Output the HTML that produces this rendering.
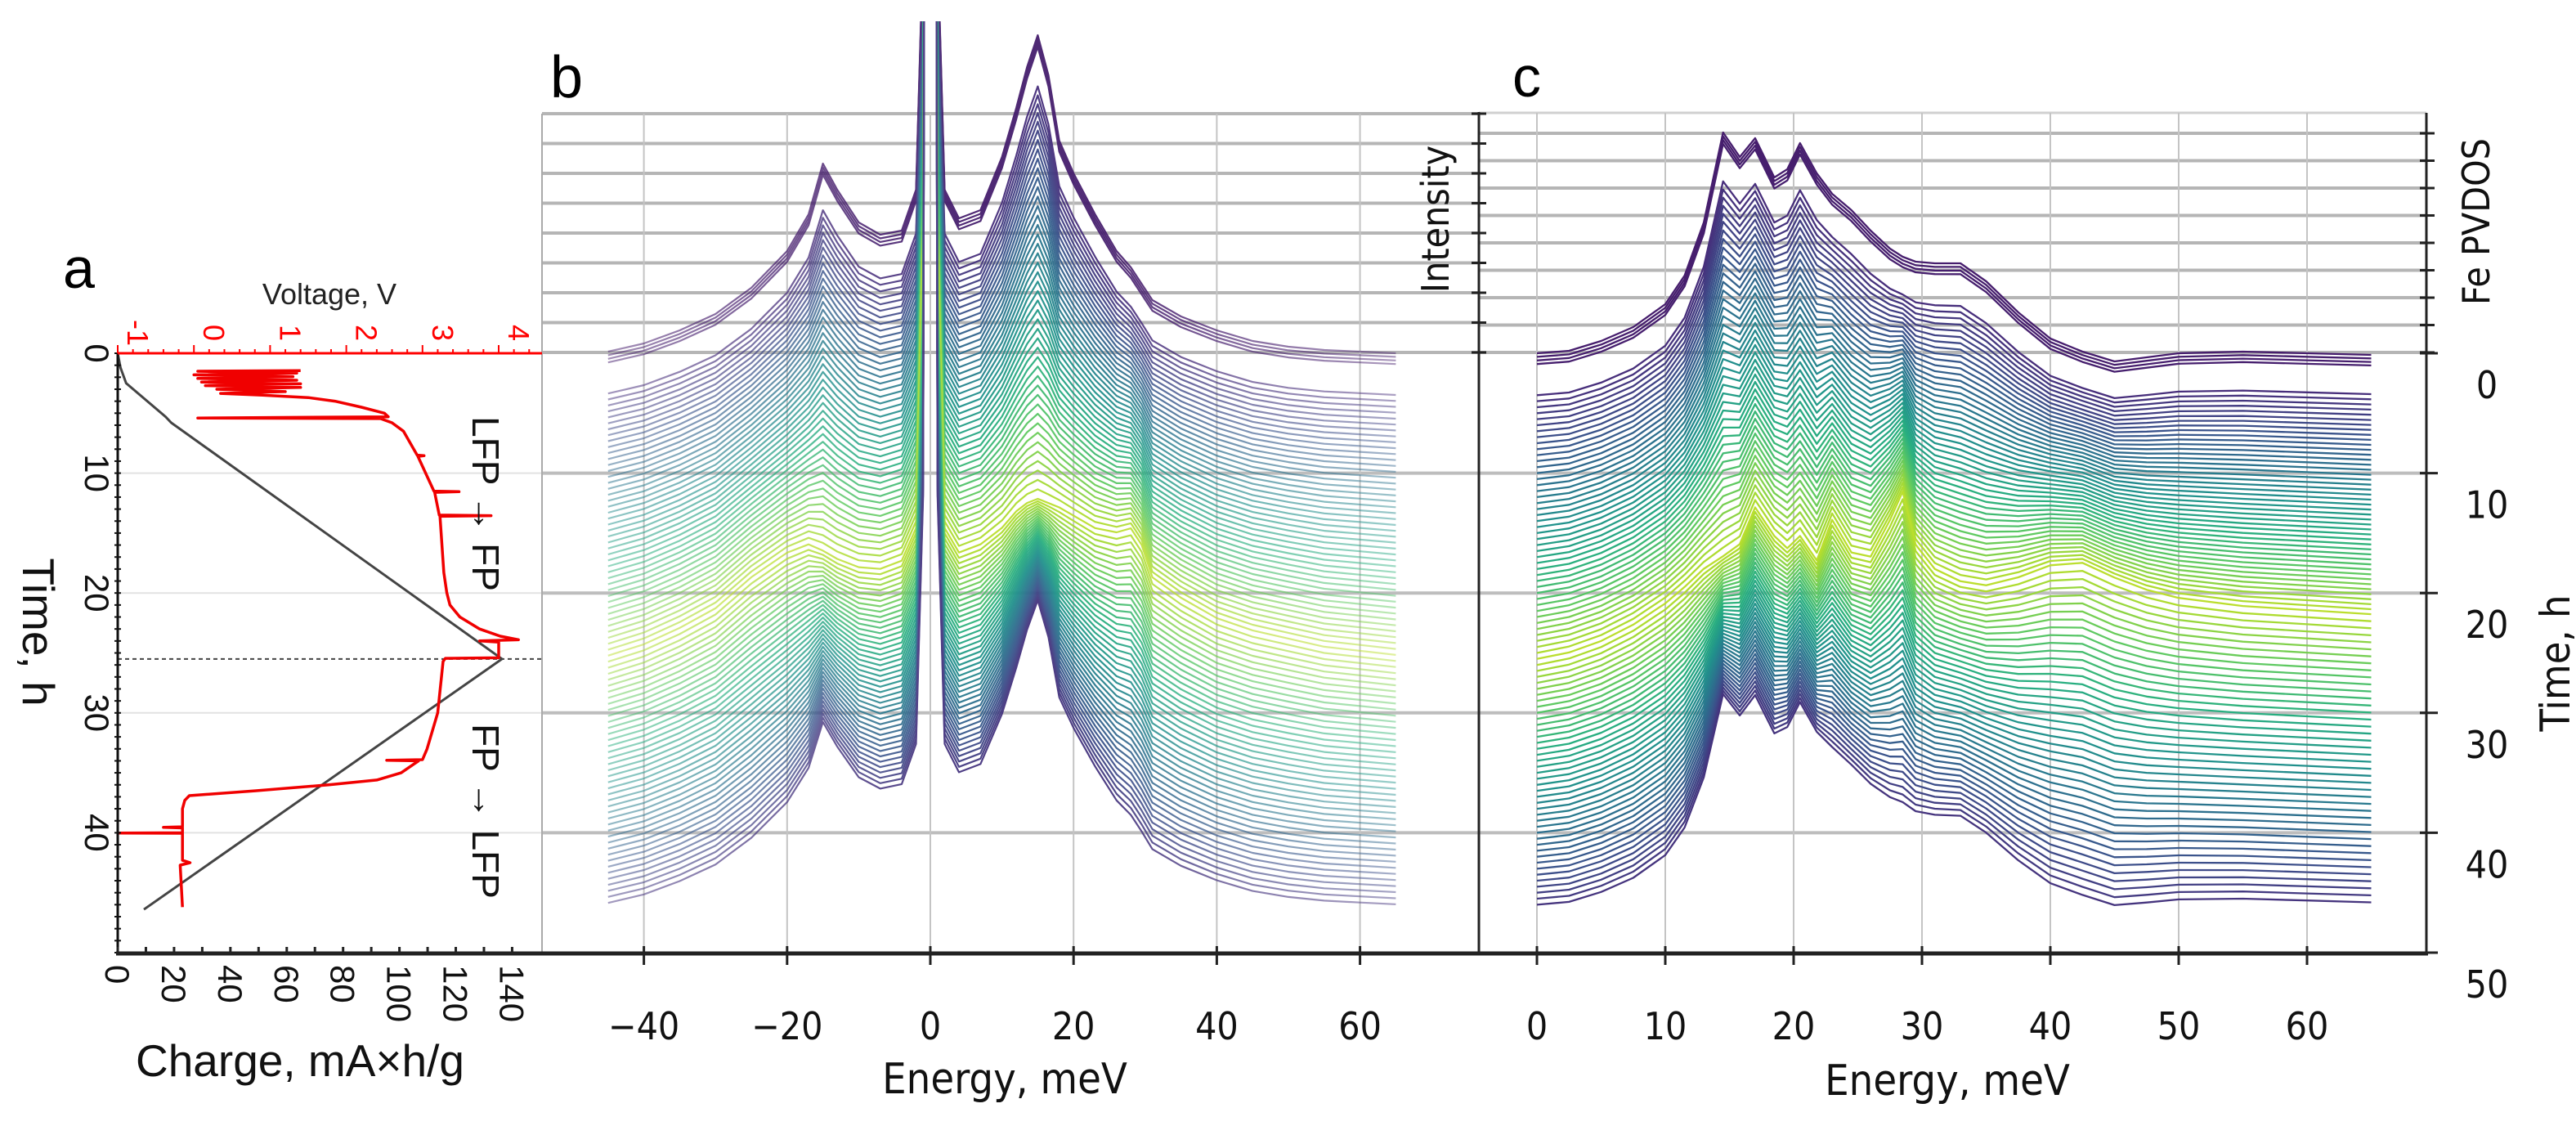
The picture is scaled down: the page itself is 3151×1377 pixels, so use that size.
<!DOCTYPE html>
<html><head><meta charset="utf-8">
<style>
html,body{margin:0;padding:0;background:#fff;}
svg{display:block;}
.la{font-family:"Liberation Sans",Arial,sans-serif;}
.dj{font-family:"DejaVu Sans Condensed","DejaVu Sans",sans-serif;font-stretch:condensed;}
</style></head>
<body>
<svg id="fig" width="3151" height="1377" viewBox="0 0 3151 1377" xmlns="http://www.w3.org/2000/svg">
<defs>
  <clipPath id="clipB"><rect x="663" y="26" width="1146" height="1140"/></clipPath>
  <clipPath id="clipC"><rect x="1811" y="26" width="1157" height="1140"/></clipPath>
  <linearGradient id="fadeG" x1="663" x2="1809" y1="0" y2="0" gradientUnits="userSpaceOnUse">
    <stop offset="0" stop-color="#fff" stop-opacity="0.4"/>
    <stop offset="0.3" stop-color="#fff" stop-opacity="0.8"/>
    <stop offset="0.42" stop-color="#fff" stop-opacity="0.95"/>
    <stop offset="0.6" stop-color="#fff" stop-opacity="0.95"/>
    <stop offset="0.75" stop-color="#fff" stop-opacity="0.65"/>
    <stop offset="1" stop-color="#fff" stop-opacity="0.35"/>
  </linearGradient>
  <mask id="fadeM" maskUnits="userSpaceOnUse" x="0" y="0" width="3151" height="1377"><rect x="0" y="0" width="3151" height="1377" fill="url(#fadeG)"/></mask>
</defs>
<g id="gridA"></g>
<g id="gridB"></g>
<g id="gridC"></g>
<g id="seriesB" clip-path="url(#clipB)"><g id="seriesBin" mask="url(#fadeM)"></g></g>
<g id="seriesC" clip-path="url(#clipC)"></g>
<g id="seriesA"></g>
<g id="axes"></g>
<g id="labels">
  <text class="la" x="77" y="352" font-size="70">a</text>
  <text class="la" x="673" y="119" font-size="72">b</text>
  <text class="la" x="1850" y="118" font-size="70">c</text>
  <text class="la" x="403" y="372" font-size="36" text-anchor="middle" fill="#222">Voltage, V</text>
  <text class="la" x="367" y="1316" font-size="55" text-anchor="middle" fill="#111">Charge, mA×h/g</text>
  <text class="la" transform="translate(28,773) rotate(90)" font-size="55" text-anchor="middle" fill="#111">Time, h</text>
  <text class="la" transform="translate(578,616) rotate(90)" font-size="46" text-anchor="middle" fill="#111">LFP → FP</text>
  <text class="la" transform="translate(578,992) rotate(90)" font-size="46" text-anchor="middle" fill="#111">FP → LFP</text>
  <text class="dj" x="1229" y="1337" font-size="52" text-anchor="middle" fill="#111">Energy, meV</text>
  <text class="dj" x="2382" y="1339" font-size="52" text-anchor="middle" fill="#111">Energy, meV</text>
  <text class="dj" transform="translate(1772,268) rotate(-90)" font-size="46" text-anchor="middle" fill="#111">Intensity</text>
  <text class="dj" transform="translate(3045,271) rotate(-90)" font-size="46" text-anchor="middle" fill="#111">Fe PVDOS</text>
  <text class="dj" transform="translate(3143,811) rotate(-90)" font-size="50" text-anchor="middle" fill="#111">Time, h</text>
</g>
</svg>
<script>
// ---- data arrays ----
var aTimeTicks = [0, 10, 20, 30, 40];
var cTimeTicks = [0, 10, 20, 30, 40, 50];
var chargeTicks = [0, 20, 40, 60, 80, 100, 120, 140];
var voltTicks = [-1, 0, 1, 2, 3, 4];
var voltTickLabels = ["-1", "0", "1", "2", "3", "4"];
var bEnergyTicks = [-40, -20, 0, 20, 40, 60];
var bEnergyLabels = ["\u221240", "\u221220", "0", "20", "40", "60"];
var cEnergyTicks = [0, 10, 20, 30, 40, 50, 60];
var bIntTicks = [0, 1, 2, 3, 4, 5, 6, 7, 8];
var cIntTicks = [0, 1, 2, 3, 4, 5, 6, 7, 8];
var dashedTime = 25.5;

var chargeT = [0, 1.2, 2.5, 5.3, 5.8, 25.5, 46.4];
var chargeQ = [0, 1, 3, 17, 19, 136.4, 9.3];

var voltT = [1.45,1.5,1.65,1.8,1.95,2.1,2.25,2.4,2.55,2.7,2.85,3.0,3.2,3.35,3.5,3.7,4.0,4.5,5.0,5.3,5.4,5.45,5.8,6.5,8.5,8.55,8.6,11.5,11.55,11.6,13.5,13.55,13.6,18.3,20,21,22,23,23.6,23.9,24.0,24.1,25.4,25.45,25.7,30,33,33.9,33.95,34,35,35.6,36,36.5,36.9,37.3,38,39.5,39.55,39.6,40,40.02,40.04,42.3,42.5,42.7,46.2];
var voltV = [1.4,0.05,1.35,0.0,1.3,0.05,1.35,0.1,1.4,0.15,1.4,0.3,1.2,0.35,0.9,1.5,1.85,2.2,2.5,2.55,0.05,2.45,2.6,2.75,2.93,3.02,2.94,3.15,3.48,3.16,3.22,3.9,3.23,3.28,3.32,3.36,3.49,3.75,4.02,4.26,3.75,4.0,4.0,3.3,3.27,3.2,3.06,3.0,2.53,2.95,2.72,2.4,1.77,0.8,-0.06,-0.12,-0.15,-0.15,-0.4,-0.15,-0.15,-1,-0.15,-0.15,-0.05,-0.18,-0.15];

var spectraTimes = [0,0.3,0.6,0.9,3.5,4,4.5,5,5.5,6,6.5,7,7.5,8,8.5,9,9.5,10,10.5,11,11.5,12,12.5,13,13.5,14,14.5,15,15.5,16,16.5,17,17.5,18,18.5,19,19.5,20,20.5,21,21.5,22,22.5,23,23.5,24,24.5,25,25.5,26,26.5,27,27.5,28,28.5,29,29.5,30,30.5,31,31.5,32,32.5,33,33.5,34,34.5,35,35.5,36,36.5,37,37.5,38,38.5,39,39.5,40,40.5,41,41.5,42,42.5,43,43.5,44,44.5,45,45.5,46];

var bEnergy = [-45,-40,-35,-30,-25,-20,-17,-15,-13,-10,-7,-4,-2,-1,-0.4,0,0.4,1,2,4,7,10,12,13.5,15,16.5,18,20,23,26,28,29.5,31,35,40,45,50,55,60,65];
var bLFP = [2,12,28,48,80,125,170,232,200,160,145,150,200,500,3000,3000,3000,500,200,165,175,240,300,350,389,340,260,220,170,125,105,85,65,45,28,15,8,4,2,0];
var bFP  = [4,18,38,62,100,130,140,132,122,112,110,120,160,500,3000,3000,3000,500,160,130,140,160,180,190,195,190,185,175,160,155,160,140,100,75,50,35,25,15,10,5];

var cEnergy = [0,2.5,5,7.5,10,11.5,13,14.5,15.8,17,18.5,19.5,20.5,21.8,23,24.5,26,27.5,28.5,29.5,31,33,35,37.5,40,42.5,45,47.5,50,55,60,65];
var cLFP = [0,3,15,32,60,95,160,270,240,263,215,225,257,220,195,175,150,128,118,112,110,110,88,50,18,2,-10,-5,0,2,0,-2];
var cFP  = [0,8,22,42,68,88,110,125,140,185,150,135,150,120,170,130,125,170,205,140,110,95,90,100,115,118,100,85,75,65,60,55];

// ---- scales ----
var NS = "http://www.w3.org/2000/svg";
function yT(t){ return 432 + t * 14.66; }
function xQ(q){ return 144 + q * 3.446; }
function xV(v){ return 144 + (v + 1) * 93.2; }
function xB(e){ return 1138 + e * 8.76; }
function xC(e){ return 1880 + e * 15.7; }
function yBInt(k){ return 431 - k * 36.5; }
function yCInt(k){ return 431 - k * 33.5; }
var VIR = [[68,1,84],[71,45,123],[59,82,139],[44,114,142],[33,145,140],[40,174,128],[94,201,98],[173,220,48],[253,231,37]];
function viridis(f){
  f = Math.max(0, Math.min(1, f)) * 8;
  var i = Math.min(7, Math.floor(f)), r = f - i, a = VIR[i], b = VIR[i + 1];
  return "rgb(" + Math.round(a[0] + (b[0] - a[0]) * r) + "," + Math.round(a[1] + (b[1] - a[1]) * r) + "," + Math.round(a[2] + (b[2] - a[2]) * r) + ")";
}
function interp(xs, ys, x){
  if (x <= xs[0]) return ys[0];
  for (var i = 1; i < xs.length; i++) { if (x <= xs[i]) { var r = (x - xs[i-1]) / (xs[i] - xs[i-1]); return ys[i-1] + r * (ys[i] - ys[i-1]); } }
  return ys[ys.length - 1];
}
function mk(tag, attrs, parent){
  var el = document.createElementNS(NS, tag);
  for (var k in attrs) el.setAttribute(k, attrs[k]);
  parent.appendChild(el);
  return el;
}
var gA = document.getElementById("gridA"), gB = document.getElementById("gridB"), gC = document.getElementById("gridC");
var sA = document.getElementById("seriesA"), sB = document.getElementById("seriesBin"), sC = document.getElementById("seriesC");
var ax = document.getElementById("axes");

// ---- panel a grid ----
aTimeTicks.forEach(function(t){
  if (t === 0) return;
  var l = mk("line", {x1: 144, x2: 663, y1: yT(t), y2: yT(t), stroke: "#e2e2e2", "stroke-width": 2}, gA);
  
  
});
var dl = mk("line", {x1: 144, x2: 663, y1: yT(dashedTime), y2: yT(dashedTime), stroke: "#444", "stroke-width": 2, "stroke-dasharray": "5,4"}, gA);



// ---- panel b grid ----
bIntTicks.forEach(function(k){
  var l = mk("line", {x1: 663, x2: 1809, y1: yBInt(k), y2: yBInt(k), stroke: "#b5b5b5", "stroke-width": 4}, gB);
  
  
});
aTimeTicks.forEach(function(t){
  if (t === 0) return;
  var l = mk("line", {x1: 663, x2: 2968, y1: yT(t), y2: yT(t), stroke: "#bdbdbd", "stroke-width": 4}, gB);
  
  
});
bEnergyTicks.forEach(function(e){
  var l = mk("line", {x1: xB(e), x2: xB(e), y1: 139, y2: 1166, stroke: "#c4c4c4", "stroke-width": 2}, gB);
  
  
});
var bl = mk("line", {x1: 663, x2: 663, y1: 139, y2: 1166, stroke: "#aaa", "stroke-width": 2}, gB);



// ---- panel c grid ----
cIntTicks.forEach(function(k){
  var l = mk("line", {x1: 1809, x2: 2968, y1: yCInt(k), y2: yCInt(k), stroke: "#b5b5b5", "stroke-width": 4}, gC);
  
  
});
var tl = mk("line", {x1: 1809, x2: 2968, y1: 138, y2: 138, stroke: "#d0d0d0", "stroke-width": 3}, gC);


cEnergyTicks.forEach(function(e){
  var l = mk("line", {x1: xC(e), x2: xC(e), y1: 138, y2: 1166, stroke: "#c4c4c4", "stroke-width": 2}, gC);
  
  
});

// ---- spectra ----
spectraTimes.forEach(function(t, i){
  var f = Math.max(0, Math.min(1, interp(chargeT, chargeQ, t) / 137));
  var col = viridis(0.08 + 0.82 * f);
  var y0 = yT(t);
  var d = "";
  bEnergy.forEach(function(e, j){
    var v = (1 - f) * bLFP[j] + f * bFP[j];
    d += (j ? "L" : "M") + xB(e).toFixed(1) + "," + (y0 - v).toFixed(1);
  });
  var p = mk("path", {d: d, fill: "none", stroke: col, "stroke-width": 2.2, "stroke-linejoin": "round"}, sB);
  
  
  var d2 = "";
  cEnergy.forEach(function(e, j){
    var v = (1 - f) * cLFP[j] + f * cFP[j];
    d2 += (j ? "L" : "M") + xC(e).toFixed(1) + "," + (y0 - v).toFixed(1);
  });
  var p2 = mk("path", {d: d2, fill: "none", stroke: col, "stroke-width": 2.3, "stroke-linejoin": "round"}, sC);
  
  
});

// ---- panel a series ----
var dq = "";
chargeT.forEach(function(t, i){ dq += (i ? "L" : "M") + xQ(chargeQ[i]).toFixed(1) + "," + yT(t).toFixed(1); });
var cq = mk("path", {d: dq, fill: "none", stroke: "#444", "stroke-width": 3}, sA);


var dv = "";
voltT.forEach(function(t, i){ dv += (i ? "L" : "M") + xV(voltV[i]).toFixed(1) + "," + yT(t).toFixed(1); });
var vq = mk("path", {d: dv, fill: "none", stroke: "#f00000", "stroke-width": 3.5, "stroke-linejoin": "round"}, sA);



// ---- axes panel a ----
var la = mk("line", {x1: 144, x2: 144, y1: 432, y2: 1167, stroke: "#111", "stroke-width": 3}, ax);


for (var tt = 0; tt <= 50; tt += 1) {
  var mt = mk("line", {x1: 140, x2: 148, y1: yT(tt), y2: yT(tt), stroke: "#111", "stroke-width": 2}, ax);
  
  
}
aTimeTicks.forEach(function(t){
  var tx = mk("text", {"class": "la", transform: "translate(104," + yT(t) + ") rotate(90)", "font-size": 42, "text-anchor": "middle", fill: "#111"}, ax);
  tx.textContent = String(t);
  
  
});
var lb = mk("line", {x1: 142, x2: 663, y1: 1166, y2: 1166, stroke: "#222", "stroke-width": 5}, ax);


for (var qq = 0; qq <= 140; qq += 10) {
  var qt = mk("line", {x1: xQ(qq), x2: xQ(qq), y1: 1158, y2: 1168, stroke: "#222", "stroke-width": 3}, ax);
  
  
}
chargeTicks.forEach(function(q){
  var tx = mk("text", {"class": "la", transform: "translate(" + (xQ(q) - 15) + ",1180) rotate(90)", "font-size": 42, "text-anchor": "start", fill: "#111"}, ax);
  tx.textContent = String(q);
  
  
});
var lr = mk("line", {x1: 144, x2: 663, y1: 432, y2: 432, stroke: "#f00", "stroke-width": 3}, ax);


for (var vv = -1; vv <= 4.51; vv += 0.2) {
  var big = Math.abs(vv - Math.round(vv)) < 0.01;
  var vt = mk("line", {x1: xV(vv), x2: xV(vv), y1: big ? 422 : 427, y2: 432, stroke: "#f00", "stroke-width": 2}, ax);
  
  
}
voltTicks.forEach(function(v, i){
  var tx = mk("text", {"class": "la", transform: "translate(" + (xV(v) + 12) + ",407) rotate(90)", "font-size": 36, "text-anchor": "middle", fill: "#f00"}, ax);
  tx.textContent = voltTickLabels[i];
  
  
});

// ---- axes b / c ----
var bx = mk("line", {x1: 663, x2: 2970, y1: 1166, y2: 1166, stroke: "#222", "stroke-width": 5}, ax);


bEnergyTicks.forEach(function(e, i){
  var t = mk("line", {x1: xB(e), x2: xB(e), y1: 1157, y2: 1180, stroke: "#222", "stroke-width": 3}, ax);
  
  
  var tx = mk("text", {"class": "dj", x: xB(e), y: 1271, "font-size": 46, "text-anchor": "middle", fill: "#111"}, ax);
  tx.textContent = bEnergyLabels[i];
  
  
});
cEnergyTicks.forEach(function(e){
  var t = mk("line", {x1: xC(e), x2: xC(e), y1: 1157, y2: 1180, stroke: "#222", "stroke-width": 3}, ax);
  
  
  var tx = mk("text", {"class": "dj", x: xC(e), y: 1271, "font-size": 46, "text-anchor": "middle", fill: "#111"}, ax);
  tx.textContent = String(e);
  
  
});
var ia = mk("line", {x1: 1809, x2: 1809, y1: 137, y2: 1166, stroke: "#222", "stroke-width": 3}, ax);


bIntTicks.forEach(function(k){
  var t = mk("line", {x1: 1800, x2: 1818, y1: yBInt(k), y2: yBInt(k), stroke: "#222", "stroke-width": 3}, ax);
  
  
});
var ra = mk("line", {x1: 2968, x2: 2968, y1: 138, y2: 1166, stroke: "#222", "stroke-width": 3}, ax);


cIntTicks.forEach(function(k){
  var t = mk("line", {x1: 2960, x2: 2978, y1: yCInt(k), y2: yCInt(k), stroke: "#222", "stroke-width": 3}, ax);
  
  
});
cTimeTicks.forEach(function(t){
  var tk = mk("line", {x1: 2960, x2: 2982, y1: yT(t), y2: yT(t), stroke: "#222", "stroke-width": 3}, ax);
  
  
  var tx = mk("text", {"class": "dj", x: 3042, y: yT(t) + 55, "font-size": 46, "text-anchor": "middle", fill: "#111"}, ax);
  tx.textContent = String(t);
  
  
});
</script>
</body></html>
